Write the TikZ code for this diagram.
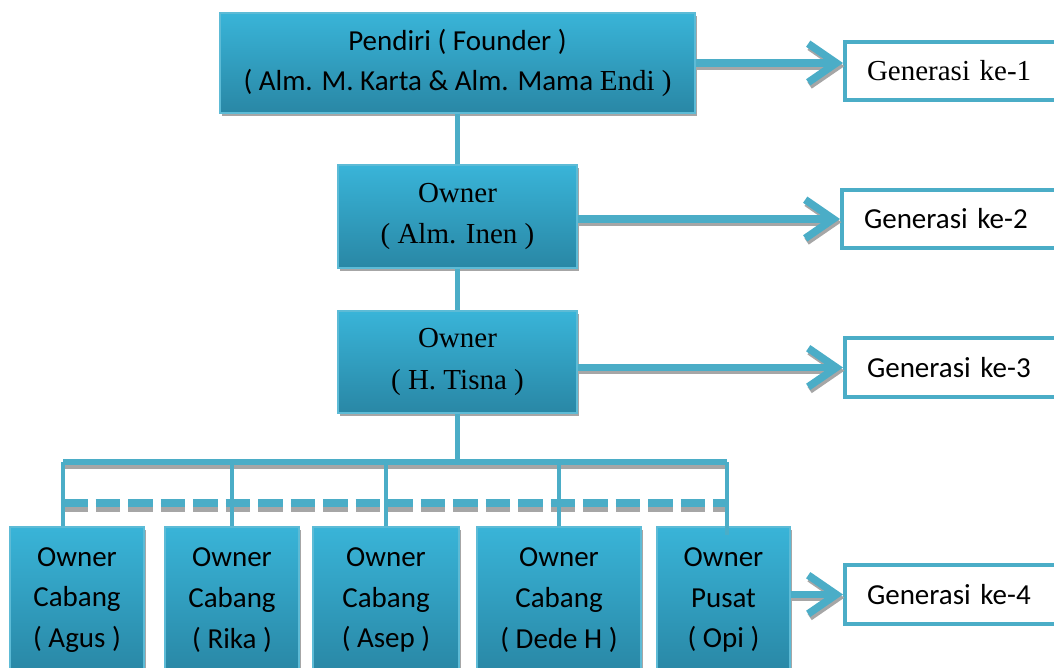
\documentclass[tikz,border=0pt]{standalone}
\usepackage{fontspec}
\setmainfont{Carlito}
\newfontfamily\timesfont{Liberation Serif}
\usetikzlibrary{arrows.meta, positioning}
\definecolor{boxtop}{HTML}{39B4D8}
\definecolor{boxbottom}{HTML}{2987A5}
\definecolor{boxedge}{HTML}{5DBBD6}
\definecolor{lineblue}{HTML}{4BADC7}
\definecolor{shadowgrey}{HTML}{A6A6A6}

\begin{document}
\begin{tikzpicture}[
    x=0.02cm, y=-0.02cm,
    owner/.style={rectangle, draw=boxedge, line width=0.8pt, top color=boxtop, bottom color=boxbottom, align=center, inner sep=0pt, font=\fontsize{16.5}{23.2}\selectfont,
        preaction={fill=shadowgrey, transform canvas={shift={(1.2pt,-1.8pt)}}}},
    gen/.style={rectangle, draw=lineblue, line width=2.3pt, fill=white, anchor=west, align=left, text width=3.5cm, inner xsep=0.44cm, inner ysep=0pt, font=\fontsize{16.5}{20}\selectfont},
    link/.style={draw=lineblue, line width=2.8pt},
    bus/.style={draw=lineblue, line width=3.4pt, preaction={draw=shadowgrey, line width=3.4pt, transform canvas={shift={(0pt,-2.4pt)}}}},
    dashbus/.style={draw=lineblue, line width=5pt, dash pattern=on 14pt off 4.5pt, preaction={draw=shadowgrey, line width=5pt, dash pattern=on 14pt off 4.5pt, transform canvas={shift={(0pt,-2.4pt)}}}},
    genarrow/.style={draw=lineblue, line width=4.3pt, -{Straight Barb[length=16pt, width=22pt]},
        preaction={draw=shadowgrey, line width=4.3pt, -{Straight Barb[length=16pt, width=22pt]}, transform canvas={shift={(0.8pt,-1.8pt)}}}}
]
\clip (0,0) rectangle (1054,667);

% owners
\node[owner, minimum width=9.5cm, minimum height=2cm] (founder) at (457.5,63) {Pendiri ( Founder )\\( Alm. M. Karta \& Alm. Mama {\timesfont Endi )}};
\node[owner, minimum width=4.78cm, minimum height=2.06cm, font=\timesfont\fontsize{16.5}{23.8}\selectfont] (inen) at (457.5,216.5) {Owner\\( Alm. Inen )};
\node[owner, minimum width=4.78cm, minimum height=2.04cm, font=\timesfont\fontsize{16.5}{23.8}\selectfont] (tisna) at (457.5,362) {Owner\\( H. Tisna )};

% fourth generation
\node[owner, minimum width=2.68cm, minimum height=2.92cm] (agus) at (77,600) {Owner\\Cabang\\( Agus )};
\node[owner, minimum width=2.68cm, minimum height=2.92cm] (rika) at (232,600) {Owner\\Cabang\\( Rika )};
\node[owner, minimum width=2.92cm, minimum height=2.92cm] (asep) at (386,600) {Owner\\Cabang\\( Asep )};
\node[owner, minimum width=3.28cm, minimum height=2.92cm] (dede) at (559,600) {Owner\\Cabang\\( Dede H )};
\node[owner, minimum width=2.66cm, minimum height=2.92cm] (opi) at (723.5,600) {Owner\\Pusat\\( Opi )};

% generations
\node[gen, minimum height=1.16cm, font=\timesfont\fontsize{16.5}{20}\selectfont] (gen1) at (843,71) {Generasi ke-1};
\node[gen, minimum height=1.16cm] (gen2) at (840,219) {Generasi ke-2};
\node[gen, minimum height=1.18cm] (gen3) at (843,367.5) {Generasi ke-3};
\node[gen, minimum height=1.18cm] (gen4) at (843,594.5) {Generasi ke-4};

% tree
\coordinate (busL) at (63,462);
\coordinate (busR) at (727,462);
\coordinate (dashL) at (63,503);
\coordinate (dashR) at (727,503);
\draw[link] (founder) -- (inen);
\draw[link] (inen) -- (tisna);
\draw[link] (tisna.south) -- (tisna.south |- busL);
\draw[dashbus] (dashL) -- (dashR);
\draw[bus] (busL) -- (busR);
\draw[link] (busL) -- (busL |- agus.north);
\draw[link] (rika.north |- busL) -- (rika.north);
\draw[link] (asep.north |- busL) -- (asep.north);
\draw[link] (dede.north |- busL) -- (dede.north);
\draw[link] (busR) -- ([yshift=-5pt]busR |- opi.north);

% arrows
\draw[genarrow] (founder.east) -- (founder.east -| gen1.west);
\draw[genarrow] (inen.east |- gen2.west) -- (gen2.west);
\draw[genarrow] (tisna.east |- gen3.west) -- (gen3.west);
\draw[genarrow] (opi.east |- gen4.west) -- (gen4.west);
\end{tikzpicture}
\end{document}
